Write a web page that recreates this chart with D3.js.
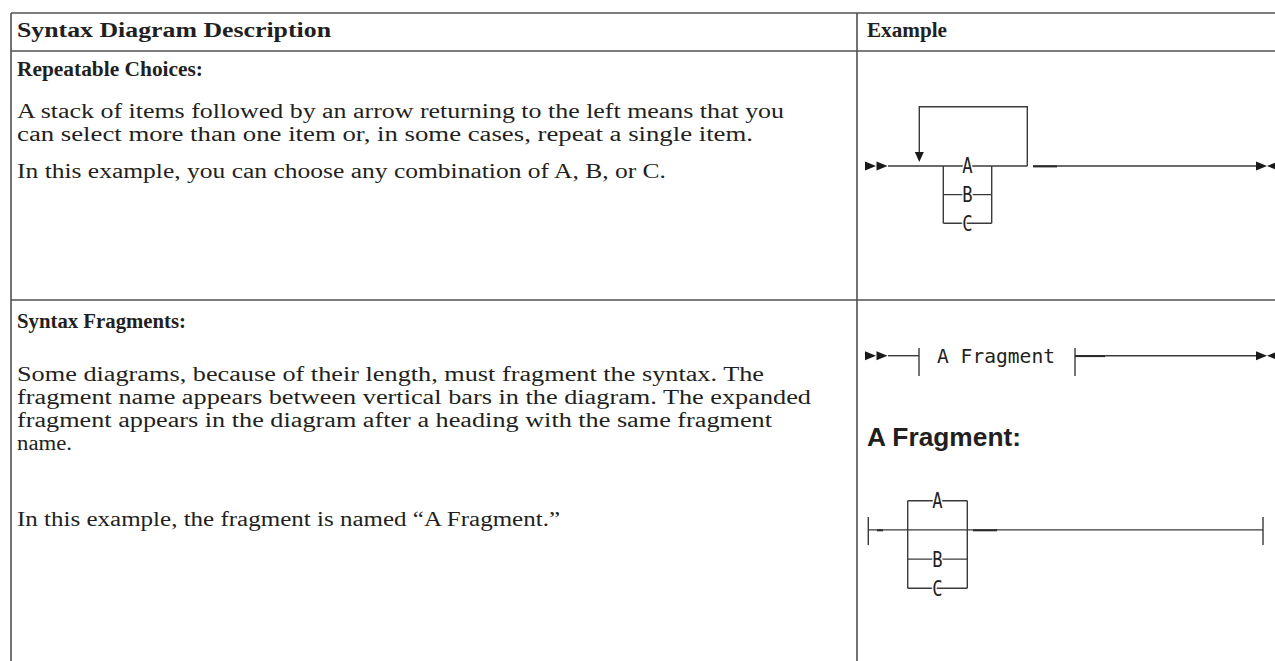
<!DOCTYPE html>
<html>
<head>
<meta charset="utf-8">
<script src="https://cdn.jsdelivr.net/npm/d3@7"></script>
<style>
  html, body { margin: 0; padding: 0; background: #fff; overflow: hidden; }
  svg { display: block; }
</style>
</head>
<body>
<script>
// ---------- data ----------
const headers = ["Syntax Diagram Description", "Example"];
const sectionTitles = ["Repeatable Choices:", "Syntax Fragments:"];
const repeatParas = [
  ["A stack of items followed by an arrow returning to the left means that you",
   "can select more than one item or, in some cases, repeat a single item."],
  ["In this example, you can choose any combination of A, B, or C."]
];
const fragmentParas = [
  ["Some diagrams, because of their length, must fragment the syntax. The",
   "fragment name appears between vertical bars in the diagram. The expanded",
   "fragment appears in the diagram after a heading with the same fragment",
   "name."],
  ["In this example, the fragment is named \u201CA Fragment.\u201D"]
];
const choices = ["A", "B", "C"];
const fragmentName = "A Fragment";
const fragmentHeading = "A Fragment:";
// estimated rendered widths of the text lines (px)
const headerWidths = [314, 80];
const titleWidths = [186, 169];
const repeatWidths = [[767, 736], [649]];
const fragmentWidths = [[747, 794, 755, 55], [543]];

// ---------- layout ----------
const W = 1275, H = 661;
const svg = d3.select("body").append("svg").attr("width", W).attr("height", H);

const serif = "'Liberation Serif', 'DejaVu Serif', serif";
const mono = "'DejaVu Sans Mono', 'Liberation Mono', monospace";
const sans = "'Liberation Sans', Arial, sans-serif";
const ink = "#231f20";
const lineCol = "#3a3a3a";
const gridCol = "#505050";

const colX = d3.scaleOrdinal().domain(headers).range([11, 857]);
const rowY = d3.scaleOrdinal().domain(["top", "head", "r1", "end"]).range([13, 51, 300, 661]);

// table grid
const grid = svg.append("g").attr("stroke", gridCol).attr("stroke-width", 1.6);
grid.selectAll("line.h").data(["top", "head", "r1"]).join("line")
  .attr("x1", colX(headers[0])).attr("x2", W)
  .attr("y1", d => rowY(d)).attr("y2", d => rowY(d));
grid.selectAll("line.v").data(headers).join("line")
  .attr("x1", d => colX(d)).attr("x2", d => colX(d))
  .attr("y1", rowY("top")).attr("y2", rowY("end"));

function txt(g, s, x, y, w, weight) {
  const t = g.append("text").attr("x", x).attr("y", y).text(s)
    .attr("font-family", serif).attr("font-size", 20).attr("fill", ink)
    .attr("font-weight", weight || "normal");
  if (w) t.attr("textLength", w).attr("lengthAdjust", "spacingAndGlyphs");
  return t;
}

const textG = svg.append("g");
const headerPad = [6, 10];
headers.forEach((h, i) => txt(textG, h, colX(h) + headerPad[i], 37, headerWidths[i], "bold"));

// paragraphs
function section(title, tw, paras, widths, yTitle, paraStarts) {
  txt(textG, title, 17, yTitle, tw, "bold");
  paras.forEach((p, pi) => {
    p.forEach((line, li) => {
      txt(textG, line, 17, paraStarts[pi] + li * 23, widths[pi][li]);
    });
  });
}
section(sectionTitles[0], titleWidths[0], repeatParas, repeatWidths, 76, [118, 178]);
section(sectionTitles[1], titleWidths[1], fragmentParas, fragmentWidths, 328, [381, 526]);

// ---------- diagrams ----------
const dg = svg.append("g").attr("stroke", lineCol).attr("fill", "none").attr("stroke-width", 1.4);
const line = d3.line();

function startArrows(x, y) {
  const tri = [[x, y - 4.5], [x + 11, y], [x, y + 4.5]];
  [0, 11.5].forEach(dx => svg.append("path")
    .attr("d", line(tri.map(p => [p[0] + dx, p[1]])) + "Z").attr("fill", "#1a1a1a"));
}
function endArrows(x, y) {
  svg.append("path").attr("d", line([[x - 11, y - 4.5], [x, y], [x - 11, y + 4.5]]) + "Z").attr("fill", "#1a1a1a");
  svg.append("path").attr("d", line([[x + 10, y - 4], [x, y], [x + 10, y + 4]]) + "Z").attr("fill", "#1a1a1a");
}
function label(s, x, y) {
  svg.append("text").attr("x", x).attr("y", y + 7.5).attr("text-anchor", "middle")
    .attr("font-family", mono).attr("font-size", 22).attr("fill", ink)
    .attr("stroke", "#fff").attr("stroke-width", 3.5).attr("paint-order", "stroke")
    .attr("transform", `translate(${x},0) scale(0.78,1) translate(${-x},0)`)
    .text(s);
}
function dash(x1, x2, y) {
  svg.append("line").attr("x1", x1).attr("x2", x2).attr("y1", y + 0.4).attr("y2", y + 0.4)
    .attr("stroke", "#2a2a2a").attr("stroke-width", 2);
}

// Diagram 1: repeatable choices
{
  const y0 = 166;
  const yc = d3.scalePoint().domain(choices).range([y0, 223.3]);
  const xL = 943.3, xR = 991.7, xLoopL = 919.3, xLoopR = 1027.3, yLoop = 106.7;
  startArrows(865, y0);
  dg.append("path").attr("d", line([[888, y0], [xLoopR, y0]]));
  dg.append("path").attr("d", line([[1033, y0], [1257, y0]]));
  dash(1033, 1057, y0);
  dg.append("path").attr("d", line([[xL, yc(choices[0])], [xL, yc(choices[choices.length - 1])]]));
  dg.append("path").attr("d", line([[xR, yc(choices[0])], [xR, yc(choices[choices.length - 1])]]));
  choices.slice(1).forEach(c => dg.append("path").attr("d", line([[xL, yc(c)], [xR, yc(c)]])));
  // repeat loop
  dg.append("path").attr("d", line([[xLoopR, y0], [xLoopR, yLoop], [xLoopL, yLoop], [xLoopL, 153]]));
  svg.append("path").attr("d", line([[xLoopL - 4.5, 152], [xLoopL, 162], [xLoopL + 4.5, 152]]) + "Z").attr("fill", "#1a1a1a");
  choices.forEach(c => label(c, (xL + xR) / 2, yc(c)));
  endArrows(1267, y0);
}

// Diagram 2: fragment reference
{
  const y0 = 355.7;
  const xB1 = 919, xB2 = 1075;
  startArrows(865, y0);
  dg.append("path").attr("d", line([[888, y0], [xB1, y0]]));
  dg.append("path").attr("d", line([[xB1, 348], [xB1, 376]]));
  dg.append("path").attr("d", line([[xB2, 348], [xB2, 376]]));
  dg.append("path").attr("d", line([[xB2, y0], [1257, y0]]));
  dash(xB2, 1105, y0);
  svg.append("text").attr("x", 937).attr("y", 362.5).attr("font-family", mono)
    .attr("font-size", 20).attr("fill", ink).attr("textLength", 118)
    .attr("lengthAdjust", "spacingAndGlyphs").text(fragmentName);
  endArrows(1267, y0);

  svg.append("text").attr("x", 867).attr("y", 446).attr("font-family", sans)
    .attr("font-weight", "bold").attr("font-size", 26).attr("fill", ink)
    .attr("textLength", 154).attr("lengthAdjust", "spacingAndGlyphs").text(fragmentHeading);
}

// Diagram 3: fragment definition
{
  const rows = [choices[0], "main", ...choices.slice(1)];
  const yc = d3.scalePoint().domain(rows).range([500.7, 588.3]);
  const y0 = yc("main");
  const xL = 907.7, xR = 967.3, xE1 = 868.3, xE2 = 1263;
  dg.append("path").attr("d", line([[xE1, y0 - 13], [xE1, y0 + 15]]));
  dg.append("path").attr("d", line([[xE2, y0 - 13], [xE2, y0 + 15]]));
  dg.append("path").attr("d", line([[xE1, y0], [xE2, y0]]));
  dash(877, 883, y0);
  dash(973, 997, y0);
  dg.append("path").attr("d", line([[xL, yc(rows[0])], [xL, yc(rows[rows.length - 1])]]));
  dg.append("path").attr("d", line([[xR, yc(rows[0])], [xR, yc(rows[rows.length - 1])]]));
  choices.forEach(c => dg.append("path").attr("d", line([[xL, yc(c)], [xR, yc(c)]])));
  choices.forEach(c => label(c, (xL + xR) / 2, yc(c)));
}
</script>
</body>
</html>
